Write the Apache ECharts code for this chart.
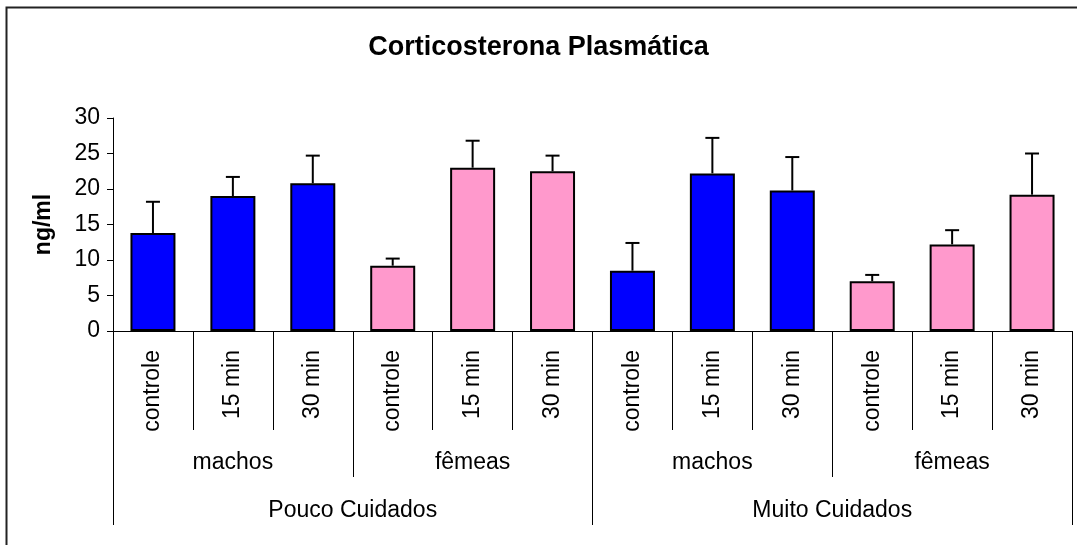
<!DOCTYPE html>
<html>
<head>
<meta charset="utf-8">
<script src="https://cdn.jsdelivr.net/npm/echarts@6/dist/echarts.min.js"></script>
<style>
  html, body { margin: 0; padding: 0; background: #fff; }
  #chart { width: 1077px; height: 545px; }
</style>
</head>
<body>
<div id="chart"></div>
<script>
// categorias (3 níveis)
const timeLabels = ['controle', '15 min', '30 min', 'controle', '15 min', '30 min',
                    'controle', '15 min', '30 min', 'controle', '15 min', '30 min'];
const sexLabels = ['machos', 'fêmeas', 'machos', 'fêmeas'];
const careLabels = ['Pouco Cuidados', 'Muito Cuidados'];

// médias e erro padrão (ng/ml)
const means = [13.8, 19.0, 20.8, 9.2, 23.0, 22.5, 8.5, 22.2, 19.8, 7.0, 12.2, 19.2];
const errors = [4.4, 2.7, 3.9, 1.0, 3.8, 2.2, 3.9, 5.0, 4.7, 0.9, 2.0, 5.8];

const FONT = '"Liberation Sans", Arial, sans-serif';
const sexColor = { 'machos': '#0000ff', 'fêmeas': '#ff99cc' };

const chart = echarts.init(document.getElementById('chart'));

const hiddenLine = { show: false };

const option = {
  animation: false,
  backgroundColor: '#fff',
  textStyle: { fontFamily: FONT },
  title: {
    text: 'Corticosterona Plasmática',
    left: 'center',
    top: 29,
    textStyle: { fontFamily: FONT, fontSize: 27, fontWeight: 'bold', color: '#000' }
  },
  graphic: [
    {
      type: 'rect',
      shape: { x: 6.5, y: 7.5, width: 1200, height: 700 },
      style: { fill: 'none', stroke: '#222', lineWidth: 2 },
      silent: true
    }
  ],
  grid: {
    left: 113,
    right: 5,
    top: 118,
    bottom: 214
  },
  xAxis: [
    {
      type: 'category',
      position: 'bottom',
      data: timeLabels,
      axisLine: { show: true, lineStyle: { color: '#000', width: 1 } },
      axisTick: { show: true, interval: 0, length: 99, lineStyle: { color: '#000' } },
      axisLabel: {
        interval: 0,
        rotate: 90,
        margin: 19,
        color: '#000',
        fontSize: 23,
        fontFamily: FONT
      }
    },
    {
      type: 'category',
      position: 'bottom',
      data: sexLabels,
      axisLine: hiddenLine,
      axisTick: { show: true, interval: 0, length: 146, lineStyle: { color: '#000' } },
      axisLabel: { interval: 0, margin: 120, color: '#000', fontSize: 23, fontFamily: FONT }
    },
    {
      type: 'category',
      position: 'bottom',
      data: careLabels,
      axisLine: hiddenLine,
      axisTick: { show: true, interval: 0, length: 194, lineStyle: { color: '#000' } },
      axisLabel: { interval: 0, margin: 168, color: '#000', fontSize: 23, fontFamily: FONT }
    }
  ],
  yAxis: {
    type: 'value',
    min: 0,
    max: 30,
    interval: 5,
    name: 'ng/ml',
    nameLocation: 'middle',
    nameGap: 58,
    nameTextStyle: { fontFamily: FONT, fontSize: 23, fontWeight: 'bold', color: '#000' },
    axisLine: { show: true, lineStyle: { color: '#000', width: 1 } },
    axisTick: { show: true, length: 6, lineStyle: { color: '#000' } },
    axisLabel: { margin: 13, color: '#000', fontSize: 23, fontFamily: FONT },
    splitLine: { show: false }
  },
  series: [
    {
      type: 'bar',
      xAxisIndex: 0,
      barWidth: 45,
      data: means.map((v, i) => ({
        value: v,
        itemStyle: { color: sexColor[sexLabels[Math.floor(i / 3)]] }
      })),
      itemStyle: { borderColor: '#000', borderWidth: 2 }
    },
    {
      // barras de erro
      type: 'custom',
      xAxisIndex: 0,
      z: 3,
      data: means.map((v, i) => [i, v, v + errors[i]]),
      encode: { x: 0, y: [1, 2] },
      renderItem: (params, api) => {
        const base = api.coord([api.value(0), api.value(1)]);
        const top = api.coord([api.value(0), api.value(2)]);
        const style = { stroke: '#000', lineWidth: 2 };
        return {
          type: 'group',
          children: [
            { type: 'line', shape: { x1: base[0], y1: base[1], x2: top[0], y2: top[1] }, style },
            { type: 'line', shape: { x1: top[0] - 7, y1: top[1], x2: top[0] + 7, y2: top[1] }, style }
          ]
        };
      }
    }
  ]
};

chart.setOption(option);
</script>
</body>
</html>
